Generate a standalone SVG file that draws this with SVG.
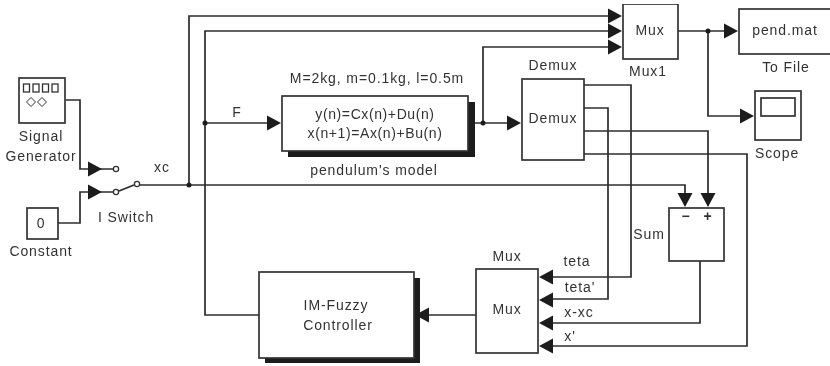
<svg xmlns="http://www.w3.org/2000/svg" width="830" height="366" viewBox="0 0 830 366">
<style>
text{font-family:"Liberation Sans",Arial,sans-serif;font-size:14px;fill:#333;text-anchor:middle;letter-spacing:.9px}
.e{letter-spacing:.6px}
.b{fill:#fff;stroke:#333;stroke-width:1.7}
.l{fill:none;stroke:#2b2b2b;stroke-width:1.7}
.t{fill:none;stroke:#333;stroke-width:1.3}
.s{fill:#1c1c1c}
.a{fill:#1c1c1c}
.c{fill:#fff;stroke:#333;stroke-width:1.3}
.d{fill:#1c1c1c}
</style>
<defs>
<filter id="soft" x="0" y="0" width="100%" height="100%"><feGaussianBlur stdDeviation="0.35"/></filter>
<path id="r" class="a" d="M-14,-7.500L0,0L-14,7.500Z"/>
<path id="lf" class="a" d="M14,-7.500L0,0L14,7.500Z"/>
<path id="dn" class="a" d="M-7.500,-14L0,0L7.500,-14Z"/>
</defs>
<rect width="830" height="366" fill="#fff"/>
<g filter="url(#soft)">
<g id="connectors">
<path class="l" d="M66,100H80V169H113"/>
<path class="l" d="M58,223H80V192H113"/>
<path class="l" d="M119,191L134,185"/>
<path class="l" d="M140,185H685V195"/>
<path class="l" d="M189,185V16H610"/>
<path class="l" d="M259,315H205V31H610"/>
<path class="l" d="M205,123H270"/>
<path class="l" d="M475,123H510"/>
<path class="l" d="M483,123V47H610"/>
<path class="l" d="M678,31H726"/>
<path class="l" d="M708,31V116H742"/>
<path class="l" d="M584,85H631V277H550"/>
<path class="l" d="M584,108H608V299H550"/>
<path class="l" d="M584,131H708V195"/>
<path class="l" d="M584,154H747V346H550"/>
<path class="l" d="M700,261V323H550"/>
<path class="l" d="M476,315H425"/>
<use href="#r" x="102" y="169"/>
<use href="#r" x="102" y="192"/>
<use href="#r" x="281" y="123"/>
<use href="#r" x="521" y="123"/>
<use href="#r" x="622" y="16"/>
<use href="#r" x="622" y="31"/>
<use href="#r" x="622" y="47"/>
<use href="#r" x="738" y="31"/>
<use href="#r" x="754" y="116"/>
<use href="#dn" x="685" y="207"/>
<use href="#dn" x="708" y="207"/>
<use href="#lf" x="539" y="277"/>
<use href="#lf" x="539" y="300"/>
<use href="#lf" x="539" y="323"/>
<use href="#lf" x="539" y="346"/>
<circle class="d" cx="189" cy="185" r="2.5"/>
<circle class="d" cx="205" cy="123" r="2.5"/>
<circle class="d" cx="483" cy="123" r="2.5"/>
<circle class="d" cx="708" cy="31" r="2.5"/>
<circle class="c" cx="116" cy="169" r="2.6"/>
<circle class="c" cx="116" cy="192" r="2.6"/>
<circle class="c" cx="137" cy="184" r="2.6"/>
</g>
<g id="signal-generator">
<rect class="b" x="19" y="78" width="46" height="45"/>
<rect class="t" x="23.500" y="84" width="6" height="8"/>
<rect class="t" x="33" y="84" width="6" height="8"/>
<rect class="t" x="42.500" y="84" width="6" height="8"/>
<rect class="t" x="52" y="84" width="6" height="8"/>
<path class="t" style="stroke-width:1" d="M26.500,102L31,97.500L35.500,102L31,106.500ZM37.500,102L42,97.500L46.500,102L42,106.500Z"/>
<text x="41" y="141">Signal</text>
<text x="41" y="161">Generator</text>
</g>
<g id="constant">
<rect class="b" x="27" y="208" width="31" height="31"/>
<text x="41" y="228">0</text>
<text x="41" y="256">Constant</text>
</g>
<g id="i-switch">
<text x="126" y="222">I Switch</text>
<text x="162" y="172">xc</text>
</g>
<text x="237" y="117">F</text>
<g id="pendulum-model">
<text x="377" y="83">M=2kg, m=0.1kg, l=0.5m</text>
<rect class="s" x="288" y="102" width="187" height="55"/>
<rect class="b" x="282" y="96" width="186" height="55"/>
<text class="e" x="375" y="119">y(n)=Cx(n)+Du(n)</text>
<text class="e" x="375" y="138">x(n+1)=Ax(n)+Bu(n)</text>
<text x="374" y="175">pendulum's model</text>
</g>
<g id="demux">
<rect class="b" x="522" y="79" width="62" height="81"/>
<text x="553" y="70">Demux</text>
<text x="553" y="123">Demux</text>
</g>
<g id="mux1">
<rect class="b" x="623" y="4" width="55" height="55"/>
<text x="650" y="35">Mux</text>
<text x="648" y="76">Mux1</text>
</g>
<g id="to-file">
<rect class="b" x="739" y="9" width="93" height="45"/>
<text x="785" y="35">pend.mat</text>
<text x="786" y="72">To File</text>
</g>
<g id="scope">
<rect class="b" x="755" y="91" width="46" height="49"/>
<rect class="b" x="761" y="98" width="34" height="18"/>
<text x="777" y="158">Scope</text>
</g>
<g id="sum">
<rect class="b" x="669" y="208" width="55" height="53"/>
<text x="686" y="221" style="font-weight:bold">−</text>
<text x="708" y="221" style="font-weight:bold">+</text>
<text x="649" y="239">Sum</text>
</g>
<g id="mux">
<rect class="b" x="476" y="269" width="62" height="84"/>
<text x="507" y="261">Mux</text>
<text x="507" y="314">Mux</text>
<text x="577" y="266">teta</text>
<text x="580" y="292">teta'</text>
<text x="579" y="317">x-xc</text>
<text x="570" y="341">x'</text>
</g>
<g id="fuzzy-controller">
<rect class="s" x="265" y="278" width="155" height="85"/>
<use href="#lf" x="415" y="315"/>
<rect class="b" x="259" y="272" width="155" height="86"/>
<text x="336" y="310">IM-Fuzzy</text>
<text x="338" y="330">Controller</text>
</g>
</g>
</svg>
